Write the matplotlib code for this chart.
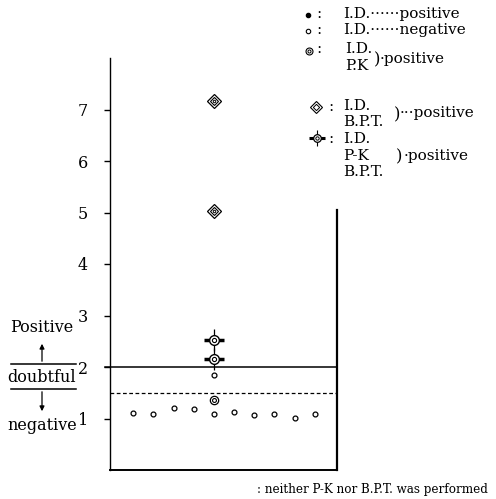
import matplotlib
matplotlib.use('Agg')
import matplotlib.pyplot as plt

# ---- data ----
neg_x = [1, 2, 3, 4, 5, 6, 7, 8, 9, 10]
neg_y = [1.11, 1.09, 1.20, 1.18, 1.08, 1.13, 1.06, 1.09, 1.01, 1.09]
neither_x = [5]
neither_y = [1.84]
pk_x = [5]
pk_y = [1.36]
bpt_x = [5, 5]
bpt_y = [7.16, 5.03]
all_x = [5, 5]
all_y = [2.52, 2.16]
yticks = [1, 2, 3, 4, 5, 6, 7]
positive_cut = 2.0
negative_cut = 1.5

FONT = 'DejaVu Serif'
plt.rcParams['font.family'] = [FONT, 'DejaVu Sans']

W, H = 496, 499
fig = plt.figure(figsize=(W / 100, H / 100), dpi=100)
ax = fig.add_axes([110 / W, 1 - 470 / H, 227 / W, 412 / H])
ax.set_xlim(-0.15, 11.1)
ax.set_ylim(0, 8)
ax.set_xticks([])
ax.set_yticks(yticks)
ax.set_yticklabels([str(t) for t in yticks], fontsize=11.5)
ax.tick_params(axis='y', direction='out', length=4, width=1, pad=12)
for s in ['top', 'right']:
    ax.spines[s].set_visible(False)
ax.spines['left'].set_linewidth(1.0)
ax.spines['bottom'].set_linewidth(1.4)
ax.axvline(11.1, ymin=0, ymax=5.05 / 8, color='k', lw=1.6, clip_on=False)

ax.axhline(positive_cut, xmin=-5 / 227, xmax=1, color='k', lw=1.1, clip_on=False)
ax.axhline(negative_cut, color='k', lw=0.9, ls=(0, (3, 2)))

ax.plot(neg_x, neg_y, 'o', ms=3.5, mfc='white', mec='k', mew=0.9, ls='none')
ax.plot(neither_x, neither_y, 'o', ms=3.5, mfc='white', mec='k', mew=0.9, ls='none')
ax.plot(pk_x, pk_y, 'o', ms=6, mfc='white', mec='k', mew=0.9, ls='none')
ax.plot(pk_x, pk_y, 'o', ms=2.8, mfc='white', mec='k', mew=0.8, ls='none')
ax.plot(bpt_x, bpt_y, 'D', ms=7, mfc='white', mec='k', mew=0.9, ls='none')
ax.plot(bpt_x, bpt_y, 'D', ms=4, mfc='white', mec='k', mew=0.8, ls='none')
ax.plot(bpt_x, bpt_y, 'o', ms=1.8, mfc='white', mec='k', mew=0.7, ls='none')
ax.plot(all_x, all_y, '|', ms=16, mec='k', mew=0.9, ls='none')
ax.plot(all_x, all_y, '_', ms=14, mec='k', mew=2.5, ls='none')
ax.plot(all_x, all_y, 'o', ms=7, mfc='white', mec='k', mew=1.0, ls='none')
ax.plot(all_x, all_y, 'o', ms=3, mfc='white', mec='k', mew=0.8, ls='none')

# ---- overlay in pixel coordinates for annotations ----
ov = fig.add_axes([0, 0, 1, 1])
ov.set_xlim(0, W)
ov.set_ylim(H, 0)
ov.axis('off')
ov.patch.set_alpha(0)

fs = 11.5
lfs = 11
pfs = 12
# left side labels
ov.text(42, 328, 'Positive', ha='center', va='center', fontsize=fs)
ov.text(42, 377, 'doubtful', ha='center', va='center', fontsize=fs)
ov.text(42, 425, 'negative', ha='center', va='center', fontsize=fs)
ov.plot([11, 76], [364, 364], color='k', lw=1.1)
ov.plot([11, 76], [389, 389], color='k', lw=1.1)
ov.annotate('', xy=(42, 341), xytext=(42, 364),
            arrowprops=dict(arrowstyle='-|>', color='k', lw=0.9, mutation_scale=7))
ov.annotate('', xy=(42, 414), xytext=(42, 389),
            arrowprops=dict(arrowstyle='-|>', color='k', lw=0.9, mutation_scale=7))

# legend
ov.plot([308], [15], 'o', ms=3, mfc='k', mec='k')
ov.text(319, 14, ':', ha='center', va='center', fontsize=lfs)
ov.text(343, 14, 'I.D.······positive', ha='left', va='center', fontsize=lfs)

ov.plot([308], [31], 'o', ms=3.2, mfc='white', mec='k', mew=0.8)
ov.text(319, 30, ':', ha='center', va='center', fontsize=lfs)
ov.text(343, 30, 'I.D.······negative', ha='left', va='center', fontsize=lfs)

ov.plot([309], [51], 'o', ms=5, mfc='white', mec='k', mew=0.8)
ov.plot([309], [51], 'o', ms=2.2, mfc='white', mec='k', mew=0.7)
ov.text(319, 49, ':', ha='center', va='center', fontsize=lfs)
ov.text(345, 49, 'I.D.', ha='left', va='center', fontsize=lfs)
ov.text(345, 66, 'P.K', ha='left', va='center', fontsize=lfs)
ov.text(374, 60, ')', ha='left', va='center', fontsize=pfs)
ov.text(380, 59, '·positive', ha='left', va='center', fontsize=lfs)

ov.plot([316], [107], 'D', ms=6, mfc='white', mec='k', mew=0.8)
ov.plot([316], [107], 'D', ms=3.2, mfc='white', mec='k', mew=0.7)
ov.text(331, 107, ':', ha='center', va='center', fontsize=lfs)
ov.text(343, 106, 'I.D.', ha='left', va='center', fontsize=lfs)
ov.text(343, 122, 'B.P.T.', ha='left', va='center', fontsize=lfs)
ov.text(394, 115, ')', ha='left', va='center', fontsize=pfs)
ov.text(400, 113, '···positive', ha='left', va='center', fontsize=lfs)

ov.plot([317], [138], '|', ms=12, mec='k', mew=0.8)
ov.plot([317], [138], '_', ms=11, mec='k', mew=2.2)
ov.plot([317], [138], 'o', ms=5.5, mfc='white', mec='k', mew=0.9)
ov.plot([317], [138], 'o', ms=2.4, mfc='white', mec='k', mew=0.7)
ov.text(331, 139, ':', ha='center', va='center', fontsize=lfs)
ov.text(343, 139, 'I.D.', ha='left', va='center', fontsize=lfs)
ov.text(343, 156, 'P-K', ha='left', va='center', fontsize=lfs)
ov.text(343, 172, 'B.P.T.', ha='left', va='center', fontsize=lfs)
ov.text(396, 157, ')', ha='left', va='center', fontsize=pfs)
ov.text(404, 156, '·positive', ha='left', va='center', fontsize=lfs)

ov.text(257, 490, ': neither P-K nor B.P.T. was performed', ha='left',
        va='center', fontsize=8.6)

fig.savefig('out.png', dpi=100)
